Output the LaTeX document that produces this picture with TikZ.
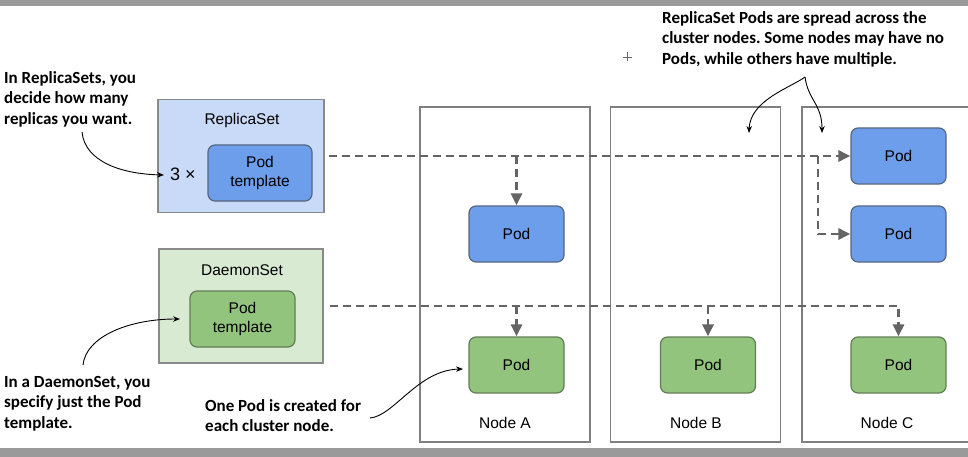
\documentclass[tikz,border=0pt]{standalone}
\usepackage{fontspec}
\setmainfont{Liberation Sans}
\newfontfamily\notefont{Carlito}
\usetikzlibrary{arrows.meta}
\frenchspacing

\definecolor{barcol}{HTML}{9A9A9A}
\definecolor{rsfill}{HTML}{C9DAF8}
\definecolor{dsfill}{HTML}{D9EAD3}
\definecolor{setdraw}{HTML}{8A8A8A}
\definecolor{podblue}{HTML}{6D9EEB}
\definecolor{podbluedraw}{HTML}{56667F}
\definecolor{podgreen}{HTML}{93C47D}
\definecolor{podgreendraw}{HTML}{627E56}
\definecolor{hostdraw}{HTML}{7F7F7F}
\definecolor{flowcol}{HTML}{646464}

\tikzset{
  setbox/.style={draw=setdraw, line width=1.2pt, inner sep=0pt},
  hostbox/.style={draw=hostdraw, line width=1.2pt, fill=white, inner sep=0pt,
    minimum width=170pt, minimum height=335pt},
  podbox/.style={rounded corners=7pt, line width=1.2pt, inner sep=0pt,
    align=center, font=\fontsize{15.5}{19}\selectfont},
  bluepod/.style={podbox, draw=podbluedraw, fill=podblue},
  greenpod/.style={podbox, draw=podgreendraw, fill=podgreen},
  boxlabel/.style={inner sep=0pt, font=\fontsize{15.5}{18}\selectfont},
  flow/.style={draw=flowcol, line width=2.8pt, dash pattern=on 8pt off 5pt,
    -{Triangle[length=12pt,width=11pt]}},
  note/.style={inner sep=0pt, anchor=north west, align=left,
    font=\notefont\bfseries\fontsize{17}{20.5}\selectfont},
  pointer/.style={draw=black, line width=0.9pt, -{Stealth[length=7pt,width=5.5pt]}}
}

\begin{document}
\begin{tikzpicture}[x=1pt,y=-1pt]
\useasboundingbox (0,0) rectangle (968,457);
\fill[white] (0,0) rectangle (968,457);
\fill[barcol] (0,0) rectangle (968,6);
\fill[barcol] (0,448) rectangle (968,457);

% cluster nodes (the third one runs past the right edge)
\node[hostbox] (hostA) at (505,274.5) {};
\node[hostbox] (hostB) at (695.5,274.5) {};
\begin{scope}
  \clip (0,0) rectangle (968,457);
  \node[hostbox, minimum width=200pt] (hostC) at (902,274.5) {};
\end{scope}
\node[boxlabel] (labA) at (505,423) {Node A};
\node[boxlabel] (labB) at (696,423) {Node B};
\node[boxlabel] (labC) at (887,423) {Node C};

% controllers
\node[setbox, fill=rsfill, minimum width=166pt, minimum height=113pt] (rs) at (241,156) {};
\node[boxlabel] (rslab) at (242,120) {ReplicaSet};
\node[bluepod, minimum width=104pt, minimum height=56pt] (rstpl) at (260,173) {Pod\\template};
\node[inner sep=0pt, font=\fontsize{18}{20}\selectfont] (times) at (183,174) {3 ×};

\node[setbox, fill=dsfill, minimum width=164pt, minimum height=114pt] (ds) at (241,306) {};
\node[boxlabel] (dslab) at (242,270) {DaemonSet};
\node[greenpod, minimum width=105pt, minimum height=56pt] (dstpl) at (242.5,319) {Pod\\template};

% pods
\tikzset{podsize/.style={minimum width=95pt, minimum height=56pt}}
\node[bluepod, podsize] (bA) at (516.5,234) {Pod};
\node[bluepod, podsize] (bC1) at (898.5,156) {Pod};
\node[bluepod, podsize] (bC2) at (898.5,234) {Pod};
\node[greenpod, podsize] (gA) at (516.5,365) {Pod};
\node[greenpod, podsize] (gB) at (708,365) {Pod};
\node[greenpod, podsize] (gC) at (898.5,365) {Pod};

% ReplicaSet placement
\draw[flow, shorten <=4pt] (rs.east) -- (bC1.west);
\draw[flow] (bA.north |- rs.east) -- (bA.north);
\coordinate (split) at (818,156);
\draw[flow] (split) |- (bC2.west);

% DaemonSet placement
\draw[flow, shorten <=6pt] (ds.east) -| (gC.north);
\draw[flow] (gA.north |- ds.east) -- (gA.north);
\draw[flow] (gB.north |- ds.east) -- (gB.north);

% callouts
\node[note] (n1) at (4,71) {In ReplicaSets, you\\decide how many\\replicas you want.};
\node[note] (n2) at (4,376) {In a DaemonSet, you\\specify just the Pod\\template.};
\node[note] (n3) at (205,399) {One Pod is created for\\each cluster node.};
\node[note] (n4) at (662,11) {ReplicaSet Pods are spread across the\\cluster nodes. Some nodes may have no\\Pods, while others have multiple.};

\coordinate (p1) at (82,132);
\coordinate (t1) at (164,175);
\draw[pointer] (p1) .. controls (85,162) and (122,174) .. (t1);

\coordinate (p2) at (83,365);
\coordinate (t2) at (180,319);
\draw[pointer] (p2) .. controls (86,336) and (130,319) .. (t2);

\coordinate (p3) at (370,418);
\coordinate (t3) at (463,369);
\draw[pointer] (p3) .. controls (394,416) and (418,370) .. (t3);

\coordinate (fork) at (805,77);
\coordinate (tB) at (749,133);
\coordinate (tC) at (822,133);
\draw[pointer] (fork) .. controls (792,87) and (750,100) .. (tB);
\draw[pointer] (fork) .. controls (808,100) and (822,104) .. (tC);

% small cross mark
\draw[draw=black!60, line width=0.7pt] (622.5,57) -- (631.5,57) (627,52.5) -- (627,61.5);
\end{tikzpicture}
\end{document}
